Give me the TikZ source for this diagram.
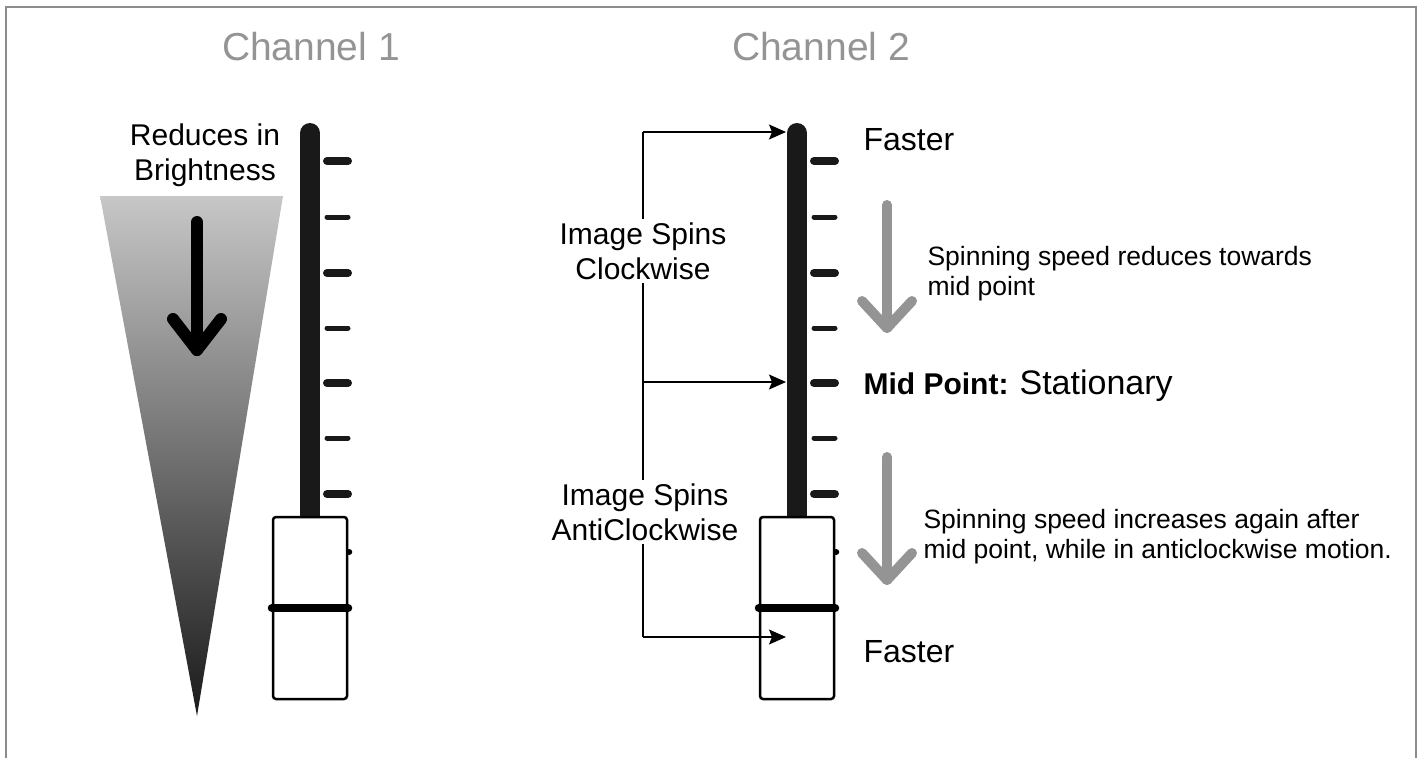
\documentclass[tikz,border=0pt]{standalone}
\usepackage{fontspec}
\setmainfont{Liberation Sans}
\usetikzlibrary{arrows.meta,positioning}

\begin{document}
\begin{tikzpicture}[x=1pt,y=-1pt,
    title/.style={font=\fontsize{39}{44}\selectfont, text=black!42},
    lbl/.style={font=\fontsize{30}{35}\selectfont, align=center},
    note/.style={font=\fontsize{26.5}{30}\selectfont, align=left, anchor=west},
    track/.style={line width=20pt, line cap=round, black!90},
    tickbig/.style={line width=8pt, line cap=round, black!90},
    ticksmall/.style={line width=5pt, line cap=round, black!90},
    knob/.style={draw, fill=white, line width=2.5pt, rounded corners=3pt, minimum width=74pt, minimum height=182pt, inner sep=0pt},
    knobbar/.style={line width=8pt, line cap=round},
    bigarrow/.style={line width=12pt, line cap=round, line join=round},
    arrow/.style={-{Stealth[length=17pt, width=15pt, inset=3pt]}, line width=1.3pt}
]
\useasboundingbox (0,0) rectangle (1423,758);
% frame
\draw[black!45, line width=2pt] (6,758) -- (6,7) -- (1416,7) -- (1416,758);

% titles
\node[title] (ch1) at (311,47) {Channel 1};
\node[title] (ch2) at (821,47) {Channel 2};

% channel 1: brightness wedge
\shade[top color=black!22, bottom color=black!90] (100,196) -- (283,196) -- (197,716) -- cycle;
\draw[bigarrow] (197,222) -- (197,350);
\draw[bigarrow] (173,319) -- (197,350) -- (221,319);
\node[lbl] (dim) at (205,155) {Reduces in\\Brightness};

% faders
\foreach \cx/\nm in {310/A,797/B} {
    \coordinate (top\nm) at (\cx,133);
    \draw[track] (top\nm) -- ++(0,390);
    \foreach \ty in {161,273,383,494}
        \draw[tickbig] (\cx+17,\ty) -- ++(21,0);
    \foreach \ty in {217,328,438}
        \draw[ticksmall] (\cx+17,\ty) -- ++(21,0);
    \node[knob] (knob\nm) at (\cx,608) {};
    \draw[knobbar] (knob\nm.west) -- (knob\nm.east);
    \fill ([xshift=1pt,yshift=56pt]knob\nm.east) circle (3pt);
}

% channel 2 labels
\node[lbl] (cw) at (643,251) {Image Spins\\Clockwise};
\node[lbl] (acw) at (645,512) {Image Spins\\AntiClockwise};
\coordinate (spinTop) at (643,132);
\coordinate (spinMid) at (643,382);
\coordinate (spinBot) at (643,637);
\coordinate (hitTop) at (786,132);
\coordinate (hitMid) at (786,382);
\coordinate (hitBot) at (786,637);
\draw[line width=1.3pt] (spinTop) -- (spinTop |- cw.north);
\draw[line width=1.3pt] (spinTop |- cw.south) -- (spinTop |- acw.north);
\draw[line width=1.3pt] (spinTop |- acw.south) -- (spinBot);
\draw[arrow] (spinTop) -- (hitTop);
\draw[arrow] (spinMid) -- (hitMid);
\draw[arrow] (spinBot) -- (hitBot);

\node[lbl, font=\fontsize{32}{35}\selectfont, anchor=west] (fastTop) at (860,140) {Faster};
\node[lbl, font=\fontsize{32}{35}\selectfont, anchor=west] (fastBot) at (860,652) {Faster};
\node[lbl, anchor=base west] (mid) at (860,394) {\textbf{Mid Point:}};
\node[lbl, font=\fontsize{34}{38}\selectfont, anchor=base west] (stat) at ([xshift=4pt]mid.base east) {Stationary};

% speed arrows
\draw[bigarrow, black!42, line width=10pt] (887,205) -- (887,328);
\draw[bigarrow, black!42, line width=10pt] (862,301) -- (887,328) -- (912,301);
\draw[bigarrow, black!42, line width=10pt] (887,457) -- (887,580);
\draw[bigarrow, black!42, line width=10pt] (862,553) -- (887,580) -- (912,553);
\node[note] (slow) at (924,274) {Spinning speed reduces towards\\mid point};
\node[note] (speed) at (920,537) {Spinning speed increases again after\\mid point, while in anticlockwise motion.};
\end{tikzpicture}
\end{document}
